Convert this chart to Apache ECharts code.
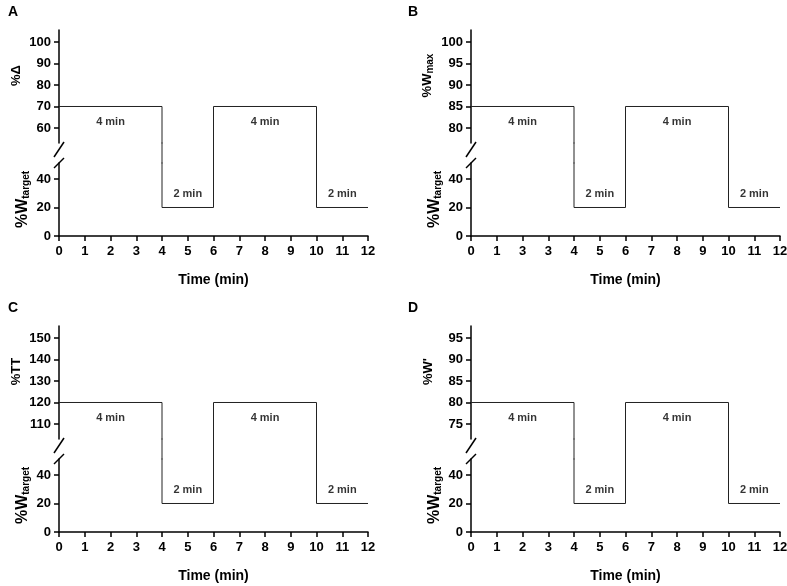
<!DOCTYPE html>
<html>
<head>
<meta charset="utf-8">
<script src="https://cdn.jsdelivr.net/npm/echarts@6/dist/echarts.min.js"></script>
<style>html,body{margin:0;padding:0;background:#fff}#c{width:787px;height:586px}</style>
</head>
<body>
<div id="c"></div>
<script>
// ---- data ----
const panelLetters = ['A', 'B', 'C', 'D'];
const timeSteps = [0, 4, 4, 6, 6, 10, 10, 12];
const workA = [70, 70, 20, 20, 70, 70, 20, 20];
const workB = [85, 85, 20, 20, 85, 85, 20, 20];
const workC = [120, 120, 20, 20, 120, 120, 20, 20];
const workD = [80, 80, 20, 20, 80, 80, 20, 20];
const upperTicksA = [60, 70, 80, 90, 100];
const upperTicksB = [80, 85, 90, 95, 100];
const upperTicksC = [110, 120, 130, 140, 150];
const upperTicksD = [75, 80, 85, 90, 95];
const lowerTicks = [0, 20, 40];
const xTickLabelsA = ['0','1','2','3','4','5','6','7','8','9','10','11','12'];
const xTickLabelsB = ['0','1','3','3','4','5','6','7','8','9','10','11','12'];
const xTickLabelsC = ['0','1','2','3','4','5','6','7','8','9','10','11','12'];
const xTickLabelsD = ['0','1','2','3','4','5','6','7','8','9','10','11','12'];
const annoX = [2, 5, 8, 11];
const annoText = ['4 min', '2 min', '4 min', '2 min'];
const upperNames = ['%\u0394', '%W{sub|max}', '%TT', "%W'"];

// ---- layout ----
const FONT = 'Liberation Sans, Arial, sans-serif';
const panels = [
  {left: 59, top: 30, work: workA, ticks: upperTicksA, step: 10, xl: xTickLabelsA},
  {left: 471, top: 30, work: workB, ticks: upperTicksB, step: 5, xl: xTickLabelsB},
  {left: 59, top: 326, work: workC, ticks: upperTicksC, step: 10, xl: xTickLabelsC},
  {left: 471, top: 326, work: workD, ticks: upperTicksD, step: 5, xl: xTickLabelsD}
];
const W = 309, UH = 113, GH = 20, LH = 73;
const LOWER_MAX = 51.2;

const grid = [], xAxis = [], yAxis = [], series = [], graphic = [];
const axisTxt = {color: '#000', fontFamily: FONT, fontWeight: 'bold', fontSize: 13};
const nameRich = {sub: {fontSize: 10, fontWeight: 'bold', fontFamily: FONT, color: '#000', padding: [6, 0, 0, 0]}};

panels.forEach((p, i) => {
  const ub = p.top + UH, lt = ub + GH;
  const tmin = p.ticks[0], tmax = p.ticks[p.ticks.length - 1];
  const umin = tmin - 0.698 * p.step, umax = tmax + 0.558 * p.step;
  const hi = p.work[0];
  const base = grid.length;
  const gOpt = {left: p.left, width: W, containLabel: false, outerBoundsMode: 'none'};
  grid.push(Object.assign({top: p.top, height: UH}, gOpt));
  grid.push(Object.assign({top: ub, height: GH}, gOpt));
  grid.push(Object.assign({top: lt, height: LH}, gOpt));
  for (let g = 0; g < 3; g++) {
    const isLower = g === 2;
    xAxis.push({
      gridIndex: base + g, type: 'value', min: 0, max: 12, interval: 1,
      show: isLower,
      axisLine: {lineStyle: {color: '#000', width: 1.5}},
      axisTick: {show: true, length: 5, lineStyle: {color: '#000', width: 1.5}},
      axisLabel: Object.assign({margin: 9, formatter: v => p.xl[Math.round(v)]}, axisTxt),
      splitLine: {show: false},
      name: isLower ? 'Time (min)' : '', nameLocation: 'middle', nameGap: 37,
      nameTextStyle: {color: '#000', fontFamily: FONT, fontWeight: 'bold', fontSize: 14}
    });
  }
  yAxis.push({
    gridIndex: base, type: 'value', min: umin, max: umax,
    axisLine: {show: true, lineStyle: {color: '#000', width: 1.5}},
    axisTick: {show: true, inside: false, length: 5, customValues: p.ticks, lineStyle: {color: '#000', width: 1.5}},
    axisLabel: Object.assign({margin: 8, customValues: p.ticks}, axisTxt),
    splitLine: {show: false},
    name: upperNames[i], nameLocation: 'middle', nameGap: 36,
    nameTextStyle: {color: '#000', fontFamily: FONT, fontWeight: 'bold', fontSize: 13, rich: nameRich, padding: [0, 0, 0, 22]}
  });
  yAxis.push({gridIndex: base + 1, type: 'value', min: LOWER_MAX, max: umin, show: false, splitLine: {show: false}});
  yAxis.push({
    gridIndex: base + 2, type: 'value', min: 0, max: LOWER_MAX,
    axisLine: {show: true, lineStyle: {color: '#000', width: 1.5}},
    axisTick: {show: true, inside: false, length: 5, customValues: lowerTicks, lineStyle: {color: '#000', width: 1.5}},
    axisLabel: Object.assign({margin: 8, customValues: lowerTicks}, axisTxt),
    splitLine: {show: false},
    name: '%W{sub|target}', nameLocation: 'middle', nameGap: 28,
    nameTextStyle: {color: '#000', fontFamily: FONT, fontWeight: 'bold', fontSize: 16, rich: nameRich}
  });
  const data = timeSteps.map((t, k) => [t, p.work[k]]);
  for (let g = 0; g < 3; g++) {
    series.push({
      type: 'line', xAxisIndex: base + g, yAxisIndex: base + g, data: data,
      symbol: 'none', clip: true, silent: true, animation: false,
      lineStyle: {color: '#222', width: 1}
    });
  }
  // annotations
  series.push({
    type: 'scatter', xAxisIndex: base, yAxisIndex: base, symbolSize: 0, silent: true, animation: false,
    data: annoX.filter((x, k) => k % 2 === 0).map(x => [x, hi]),
    label: {show: true, position: 'bottom', distance: 10, formatter: (prm) => annoText[annoX.indexOf(prm.value[0])],
      color: '#000', fontFamily: FONT, fontWeight: 'bold', fontSize: 11}
  });
  series.push({
    type: 'scatter', xAxisIndex: base + 2, yAxisIndex: base + 2, symbolSize: 0, silent: true, animation: false,
    data: annoX.filter((x, k) => k % 2 === 1).map(x => [x, p.work[2]]),
    label: {show: true, position: 'top', distance: 8, formatter: (prm) => annoText[annoX.indexOf(prm.value[0])],
      color: '#000', fontFamily: FONT, fontWeight: 'bold', fontSize: 11}
  });
  // break marks
  graphic.push({type: 'line', shape: {x1: p.left - 5, y1: ub + 14, x2: p.left + 5, y2: ub - 1},
    style: {stroke: '#000', lineWidth: 1.5}});
  graphic.push({type: 'line', shape: {x1: p.left - 5, y1: lt + 5, x2: p.left + 5, y2: lt - 5},
    style: {stroke: '#000', lineWidth: 1.5}});
  // panel letter
  graphic.push({type: 'text', left: (i % 2 === 0 ? 8 : 408), top: p.top - 25,
    style: {text: panelLetters[i], fill: '#000', font: 'bold 14px ' + FONT}});
});

const chart = echarts.init(document.getElementById('c'), null, {renderer: 'canvas'});
chart.setOption({animation: false, grid, xAxis, yAxis, series, graphic});
</script>
</body>
</html>
